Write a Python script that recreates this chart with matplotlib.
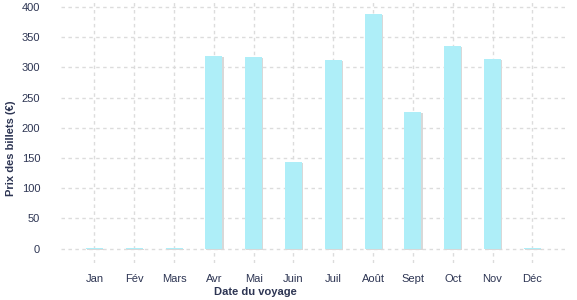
import matplotlib
matplotlib.use("Agg")
import matplotlib.pyplot as plt
import matplotlib.patheffects as pe

plt.rcParams['font.family'] = ['Liberation Sans', 'DejaVu Sans']

# données
mois = ['Jan', 'Fév', 'Mars', 'Avr', 'Mai', 'Juin', 'Juil', 'Août', 'Sept', 'Oct', 'Nov', 'Déc']
prix = [1, 1, 1, 319, 317, 143, 312, 388, 226, 335, 314, 1]
graduations = [0, 50, 100, 150, 200, 250, 300, 350, 400]

texte = '#2d3553'
barre = '#aeeef8'
grille = '#dcdcdc'

fig = plt.figure(figsize=(5.77, 3.0), dpi=100)
ax = fig.add_axes([61 / 577, 1 - 263 / 300, 506 / 577, 263 / 300])

x = range(len(mois))
bars = ax.bar(x, prix, width=0.43, color=barre, zorder=3)
for b in bars:
    b.set_path_effects([pe.SimplePatchShadow(offset=(0.8, -0.8), shadow_rgbFace='#d8d8d8', alpha=1.0),
                        pe.Normal()])

ax.set_xlim(-0.84, 11.87)
ax.set_ylim(-23.8, 411.6)
ax.set_xticks(list(x))
ax.set_xticklabels(mois)
ax.set_yticks(graduations)

ax.grid(True, color=grille, linestyle=(0, (2.5, 2.5)), linewidth=1, zorder=0)
for s in ax.spines.values():
    s.set_visible(False)
ax.tick_params(length=0, labelsize=8, colors=texte)
ax.tick_params(axis='y', pad=15)
ax.tick_params(axis='x', pad=8)

fig.text(255 / 577, 1 - 292 / 300, 'Date du voyage', ha='center', va='center',
         fontsize=8, fontweight='bold', color=texte)
fig.text(11 / 577, 1 - 148 / 300, 'Prix des billets (€)', ha='center', va='center',
         rotation=90, fontsize=8, fontweight='bold', color=texte)

fig.savefig('out.png', dpi=100)
